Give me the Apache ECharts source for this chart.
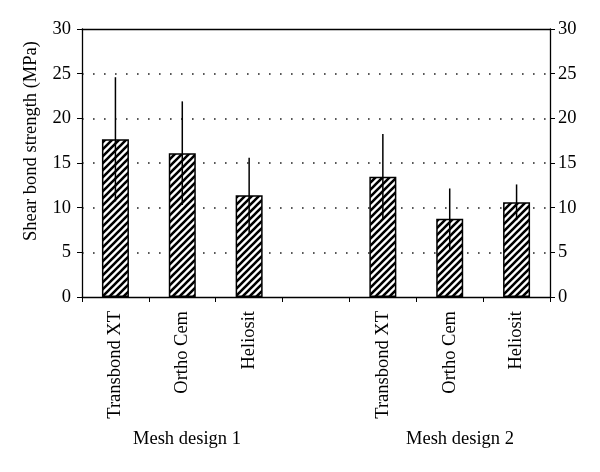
<!DOCTYPE html>
<html><head><meta charset="utf-8">
<script src="https://cdn.jsdelivr.net/npm/echarts@6/dist/echarts.min.js"></script>
<style>html,body{margin:0;padding:0;background:#fff}#c{width:600px;height:472px}</style>
</head><body><div id="c"></div>
<script>
var categories = ['Transbond XT', 'Ortho Cem', 'Heliosit', '', 'Transbond XT', 'Ortho Cem', 'Heliosit'];
var means = [17.65, 16.1, 11.4, null, 13.45, 8.75, 10.6];
var sds = [6.95, 5.8, 4.2, null, 4.8, 3.4, 2.0];
var groupLabels = ['Mesh design 1', 'Mesh design 2'];

function stripePattern() {
  var s = 7, c = document.createElement('canvas');
  c.width = s; c.height = s;
  var g = c.getContext('2d');
  g.fillStyle = '#fff'; g.fillRect(0, 0, s, s);
  g.strokeStyle = '#000'; g.lineWidth = 2.6;
  g.beginPath();
  g.moveTo(-s, s * 2); g.lineTo(s * 2, -s);
  g.moveTo(-s * 2, s * 2); g.lineTo(s, -s);
  g.moveTo(0, s * 2); g.lineTo(s * 3, -s);
  g.stroke();
  return c;
}

var errData = [];
means.forEach(function (m, i) { if (m != null) errData.push([i, m - sds[i], m + sds[i]]); });

var font = 'Liberation Serif';
var fs = 18.5;
var chart = echarts.init(document.getElementById('c'));
chart.setOption({
  animation: false,
  textStyle: { fontFamily: font },
  grid: { left: 82, right: 50, top: 29, bottom: 175 },
  xAxis: [{
    type: 'category', data: categories, boundaryGap: true,
    axisLine: { show: true, lineStyle: { color: '#000', width: 1.3 } },
    axisTick: { show: true, length: 5, interval: 0, lineStyle: { color: '#000' } },
    axisLabel: { rotate: 90, interval: 0, color: '#000', fontSize: fs, fontFamily: font, margin: 14 }
  }, {
    type: 'category', data: categories, position: 'top',
    axisLine: { show: true, onZero: false, lineStyle: { color: '#000', width: 1.3 } },
    axisTick: { show: false }, axisLabel: { show: false }
  }],
  yAxis: [{
    type: 'value', min: 0, max: 30, interval: 5, position: 'left',
    name: 'Shear bond strength (MPa)', nameLocation: 'middle', nameGap: 41,
    nameTextStyle: { color: '#000', fontSize: fs, fontFamily: font, padding: [0, 0, 0, 44] },
    axisLine: { show: true, lineStyle: { color: '#000', width: 1.3 } },
    axisTick: { show: true, length: 5, lineStyle: { color: '#000' } },
    axisLabel: { color: '#000', fontSize: fs, fontFamily: font, margin: 11 },
    splitLine: { show: true, showMinLine: false, showMaxLine: false, lineStyle: { color: '#222', type: [1.6, 9.4], width: 1.6 } }
  }, {
    type: 'value', min: 0, max: 30, interval: 5, position: 'right',
    axisLine: { show: true, lineStyle: { color: '#000', width: 1.3 } },
    axisTick: { show: true, length: 5, lineStyle: { color: '#000' } },
    axisLabel: { color: '#000', fontSize: fs, fontFamily: font, margin: 8 },
    splitLine: { show: false }
  }],
  series: [{
    type: 'bar', data: means, barWidth: 27,
    itemStyle: { color: { image: stripePattern(), repeat: 'repeat' }, borderColor: '#000', borderWidth: 1.5 }
  }, {
    type: 'custom', data: errData, z: 5,
    renderItem: function (params, api) {
      var lo = api.coord([api.value(0), api.value(1)]);
      var hi = api.coord([api.value(0), api.value(2)]);
      return { type: 'line', shape: { x1: lo[0], y1: lo[1], x2: hi[0], y2: hi[1] }, style: { stroke: '#000', lineWidth: 1.5 } };
    }
  }],
  graphic: [
    { type: 'text', left: 133, top: 430, style: { text: groupLabels[0], font: fs + 'px "Liberation Serif"', fill: '#000' } },
    { type: 'text', left: 406, top: 430, style: { text: groupLabels[1], font: fs + 'px "Liberation Serif"', fill: '#000' } }
  ]
});
</script></body></html>
